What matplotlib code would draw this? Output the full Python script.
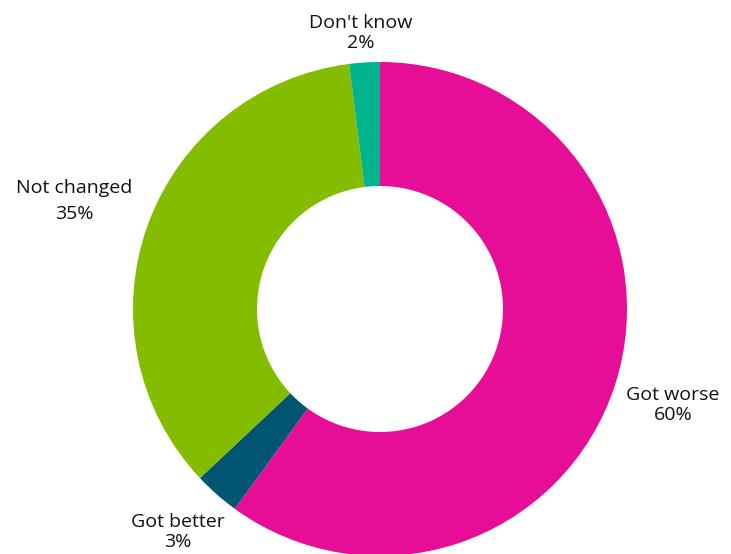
import matplotlib.pyplot as plt

categories = ['Got worse', 'Got better', 'Not changed', "Don't know"]
shares = [60, 3, 35, 2]
colors = ['#E60E96', '#005670', '#84BC00', '#00B48C']

# label anchor points in figure pixels (x, y from top), one per category
label_pos = [(673, 405), (178, 532), (74, 201), (361, 33)]
label_gap = [1.1, 1.1, 1.6, 1.1]

W, H = 731, 554
fig = plt.figure(figsize=(W / 100, H / 100), dpi=100)
ax = fig.add_axes([0, 0, 1, 1])
ax.set_xlim(0, W)
ax.set_ylim(0, H)
ax.set_aspect('equal')
ax.axis('off')

cx, cy, r_out = 380, H - 309, 247
ax.pie(shares, colors=colors, startangle=90, counterclock=False,
       center=(cx, cy), radius=r_out,
       wedgeprops=dict(width=r_out - 123, edgecolor='none'))
ax.set_xlim(0, W)
ax.set_ylim(0, H)

for cat, val, (x, y), gap in zip(categories, shares, label_pos, label_gap):
    ax.text(x, H - y, f'{cat}\n{val}%', ha='center', va='center',
            fontsize=14, family='Open Sans', color='#111111', linespacing=gap)

fig.savefig('out.png', dpi=100)
